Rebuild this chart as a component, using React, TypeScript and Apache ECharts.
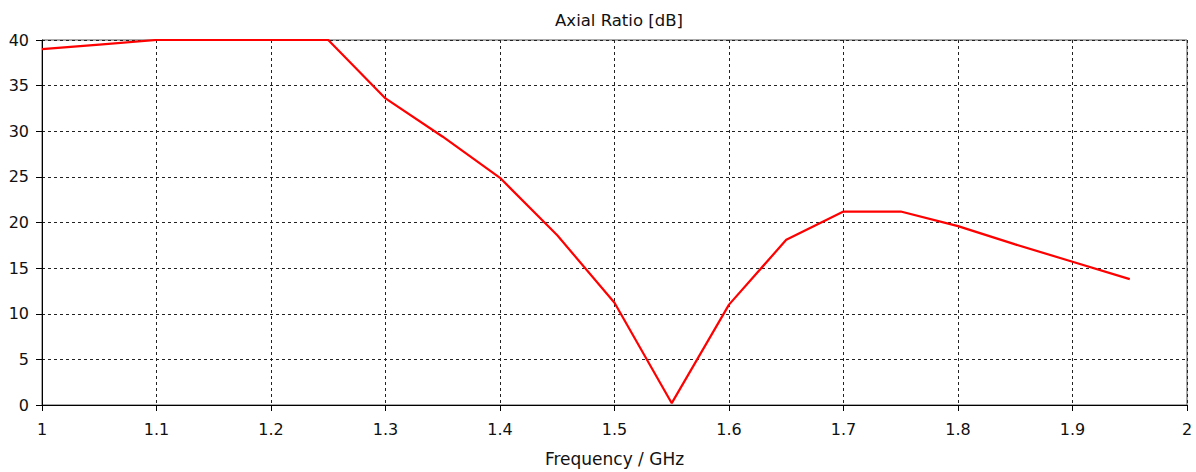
import React, { useEffect, useRef } from "react";
import * as echarts from "echarts";

const frequencies = [1.0, 1.05, 1.1, 1.15, 1.2, 1.25, 1.3, 1.35, 1.4, 1.45, 1.5, 1.55, 1.6, 1.65, 1.7, 1.75, 1.8, 1.85, 1.9, 1.95];
const axialRatio = [39.0, 39.5, 40.0, 40.0, 40.0, 40.0, 33.6, 29.4, 24.9, 18.6, 11.2, 0.2, 11.0, 18.1, 21.2, 21.2, 19.6, 17.6, 15.7, 13.8];

const titleText = "Axial Ratio [dB]";
const xAxisName = "Frequency / GHz";
const FONT = "DejaVu Sans";

export default function App() {
  const ref = useRef<HTMLDivElement>(null);
  useEffect(() => {
    if (!ref.current) return;
    const chart = echarts.init(ref.current, null, { renderer: "svg" });
    const data = frequencies.map((f, i) => [f, axialRatio[i]]);
    chart.setOption({
      animation: false,
      backgroundColor: "#ffffff",
      title: {
        text: titleText,
        left: 614,
        textAlign: "center",
        top: 7,
        textStyle: { fontFamily: FONT, fontSize: 16.5, fontWeight: "normal", color: "#111" },
      },
      grid: {
        left: 42,
        right: 9,
        top: 40,
        bottom: 66,
        show: true,
        borderColor: "#555",
        borderWidth: 1,
        backgroundColor: "transparent",
      },
      xAxis: {
        type: "value",
        min: 1,
        max: 2,
        interval: 0.1,
        name: xAxisName,
        nameLocation: "middle",
        nameGap: 45,
        nameTextStyle: { fontFamily: FONT, fontSize: 17, color: "#111" },
        axisLine: { show: true, lineStyle: { color: "#000", width: 1 } },
        axisTick: { show: true, inside: false, length: 6, lineStyle: { color: "#000" } },
        axisLabel: {
          fontFamily: FONT,
          fontSize: 16,
          color: "#111",
          margin: 16,
          formatter: (v: number) => String(Math.round(v * 10) / 10),
        },
        splitLine: { show: true, lineStyle: { color: "#222", type: [3, 3], width: 1 } },
      },
      yAxis: {
        type: "value",
        min: 0,
        max: 40,
        interval: 5,
        axisLine: { show: true, lineStyle: { color: "#000", width: 1 } },
        axisTick: { show: true, inside: false, length: 6, lineStyle: { color: "#000" } },
        axisLabel: { fontFamily: FONT, fontSize: 16, color: "#111", margin: 13 },
        splitLine: { show: true, lineStyle: { color: "#222", type: [3, 3], width: 1 } },
      },
      series: [
        {
          type: "line",
          data,
          showSymbol: false,
          symbol: "none",
          lineStyle: { color: "#ff0000", width: 2.2 },
          z: 5,
        },
      ],
    });
    return () => chart.dispose();
  }, []);
  return <div ref={ref} style={{ width: 1196, height: 472, position: "absolute", left: 0, top: 0 }} />;
}
